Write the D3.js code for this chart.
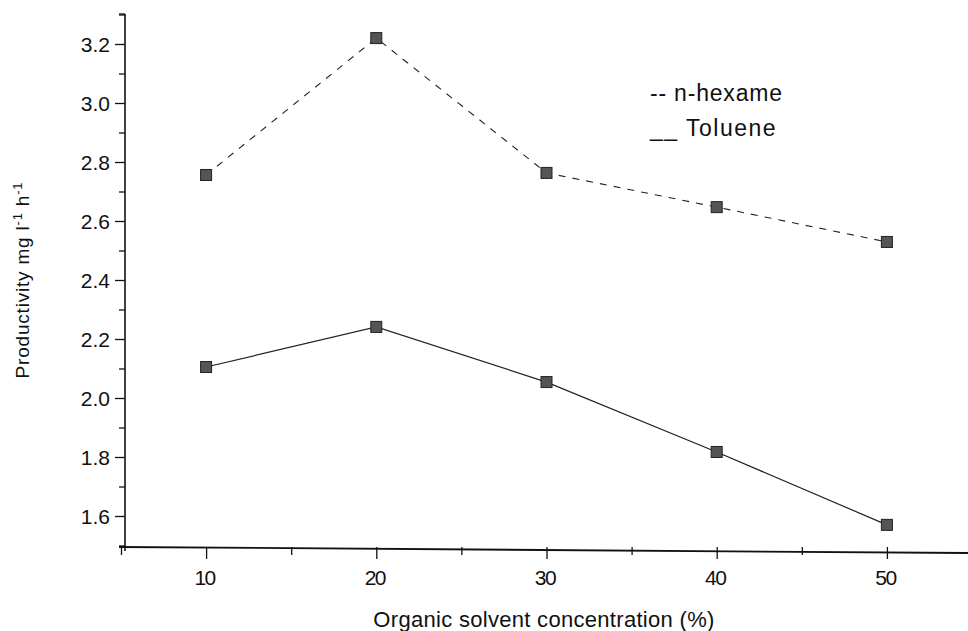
<!DOCTYPE html>
<html><head><meta charset="utf-8">
<script src="https://cdn.jsdelivr.net/npm/d3@7"></script>
<style>body{margin:0;background:#fff}svg{display:block}text{font-family:"Liberation Sans",Arial,sans-serif;fill:#111}</style>
</head><body><svg id="c" width="968" height="631"></svg>
<script>
const concentrations = [10, 20, 30, 40, 50];
const hexameValues = [2.756, 3.22, 2.763, 2.647, 2.529];
const tolueneValues = [2.105, 2.241, 2.054, 1.817, 1.570];
const xTickValues = [10, 20, 30, 40, 50];
const yTickValues = [1.6, 1.8, 2.0, 2.2, 2.4, 2.6, 2.8, 3.0, 3.2];

const svg = d3.select("#c");
const x = d3.scaleLinear().domain([5, 55]).range([121, 972]);
const y = d3.scaleLinear().domain([1.5, 3.3]).range([545.5, 14.5]);
const x0 = 125, yBase = 547;

// Y axis
const yAxis = d3.axisLeft(y).tickValues(yTickValues).tickFormat(d3.format(".1f")).tickSize(10).tickPadding(5);
const gy = svg.append("g").attr("transform", `translate(${x0},0)`).call(yAxis);
gy.select(".domain").remove();
gy.selectAll("line").attr("stroke", "#111").attr("stroke-width", 1.3);
gy.selectAll("text").style("font-size", "21px").attr("dy", "0.36em");
const gym = svg.append("g").attr("transform", `translate(${x0},0)`)
  .call(d3.axisLeft(y).tickValues(d3.range(1.5, 3.31, 0.2).map(v => +v.toFixed(1))).tickSize(6).tickFormat(""));
gym.select(".domain").remove();
gym.selectAll("line").attr("stroke", "#111").attr("stroke-width", 1.3);
svg.append("line").attr("x1", x0).attr("x2", x0).attr("y1", 14).attr("y2", yBase + 4).attr("stroke", "#111").attr("stroke-width", 1.6);
svg.append("line").attr("x1", x0 - 6).attr("x2", x0).attr("y1", 14).attr("y2", 14).attr("stroke", "#111").attr("stroke-width", 1.3);

// X axis
const gx = svg.append("g").attr("transform", `translate(0,${yBase})`)
  .call(d3.axisBottom(x).tickValues(xTickValues).tickFormat(d3.format("d")).tickSize(12).tickPadding(11));
gx.select(".domain").remove();
gx.selectAll("line").attr("stroke", "#111").attr("stroke-width", 1.3);
gx.selectAll(".tick text").style("font-size", "21px").style("letter-spacing", "-1.5px").attr("x", -2);
const gxm = svg.append("g").attr("transform", `translate(0,${yBase})`)
  .call(d3.axisBottom(x).tickValues([5, 15, 25, 35, 45]).tickSize(8).tickFormat(""));
gxm.select(".domain").remove();
gxm.selectAll("line").attr("stroke", "#111").attr("stroke-width", 1.3);
svg.append("line").attr("x1", 119).attr("x2", 968).attr("y1", yBase).attr("y2", yBase + 6).attr("stroke", "#111").attr("stroke-width", 1.8);

// Lines
const line = d3.line().x((d, i) => x(concentrations[i])).y(d => y(d));
svg.append("path").datum(hexameValues).attr("d", line).attr("fill", "none")
  .attr("stroke", "#222").attr("stroke-width", 1.1).attr("stroke-dasharray", "7,7");
svg.append("path").datum(tolueneValues).attr("d", line).attr("fill", "none")
  .attr("stroke", "#222").attr("stroke-width", 1.2);

// Markers
[hexameValues, tolueneValues].forEach(vals => {
  svg.append("g").selectAll("rect").data(vals).join("rect")
    .attr("x", (d, i) => x(concentrations[i]) - 5.5).attr("y", d => y(d) - 5.5)
    .attr("width", 11).attr("height", 11)
    .attr("fill", "#555").attr("stroke", "#222").attr("stroke-width", 1);
});

// Legend
svg.append("text").attr("x", 650).attr("y", 101).style("font-size", "23px").style("letter-spacing", "0.8px").text("-- n-hexame");
svg.append("text").attr("x", 650).attr("y", 136).style("font-size", "23px").style("letter-spacing", "1.5px").text("__ Toluene");

// Axis titles
svg.append("text").attr("x", 544).attr("y", 627).attr("text-anchor", "middle").style("font-size", "22px")
  .style("letter-spacing", "0.3px").text("Organic solvent concentration (%)");
const yl = svg.append("text").attr("transform", "translate(29,280) rotate(-90)").attr("text-anchor", "middle").style("font-size", "19px").style("letter-spacing", "0.8px");
yl.append("tspan").text("Productivity mg l");
yl.append("tspan").attr("dy", -7).style("font-size", "13px").text("-1");
yl.append("tspan").attr("dy", 7).text(" h");
yl.append("tspan").attr("dy", -7).style("font-size", "13px").text("-1");
</script></body></html>
